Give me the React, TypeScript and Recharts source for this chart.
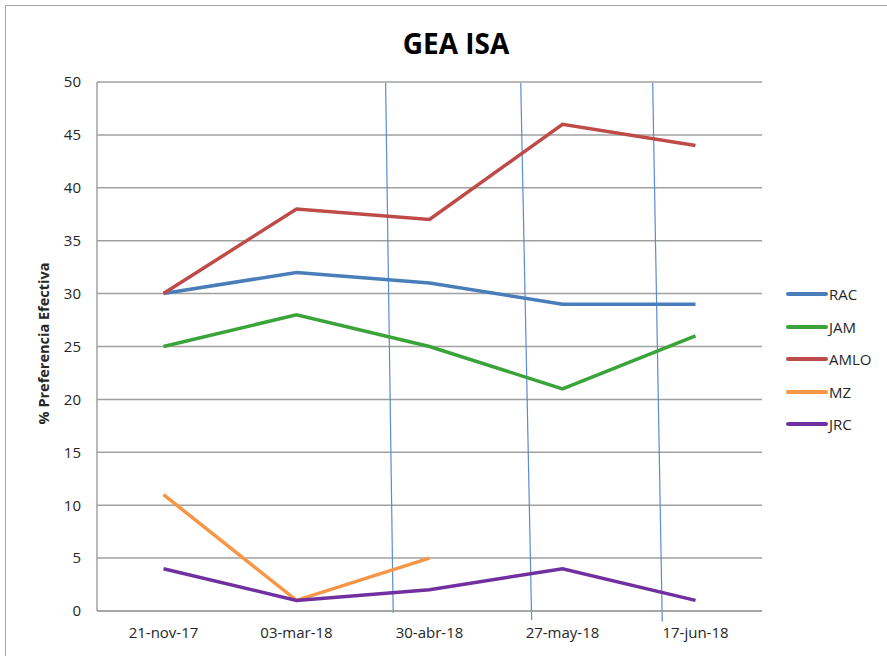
import React from 'react';
import { LineChart, Line, XAxis, YAxis, CartesianGrid, Legend, ReferenceLine } from 'recharts';

const categories = ['21-nov-17', '03-mar-18', '30-abr-18', '27-may-18', '17-jun-18'];
const rac = [30, 32, 31, 29, 29];
const jam = [25, 28, 25, 21, 26];
const amlo = [30, 38, 37, 46, 44];
const mz: (number | null)[] = [11, 1, 5, null, null];
const jrc = [4, 1, 2, 4, 1];
const yTicks = [0, 5, 10, 15, 20, 25, 30, 35, 40, 45, 50];

// hand-drawn slanted annotation lines, in (category-band position, value) units
const annotations = [
  { x1: 2.17, y1: 49.9, x2: 2.227, y2: -0.2 },
  { x1: 3.186, y1: 49.9, x2: 3.268, y2: -0.85 },
  { x1: 4.178, y1: 49.9, x2: 4.25, y2: -1.0 },
];

const series = [
  { key: 'RAC', values: rac, color: '#4a7ebb' },
  { key: 'JAM', values: jam, color: '#3aa43a' },
  { key: 'AMLO', values: amlo, color: '#be4b48' },
  { key: 'MZ', values: mz, color: '#f79646' },
  { key: 'JRC', values: jrc, color: '#7030a0' },
];

const data = categories.map((c, i) => {
  const row: Record<string, any> = { name: c, pos: i + 0.5 };
  series.forEach((s) => {
    row[s.key] = s.values[i];
  });
  return row;
});

const FONT = '"Open Sans", "Noto Sans", sans-serif';

const renderLegend = () => (
  <div style={{ fontFamily: FONT, fontSize: 15, color: '#262626' }}>
    {series.map((s) => (
      <div key={s.key} style={{ display: 'flex', alignItems: 'center', height: 32.5 }}>
        <svg width={42} height={6} style={{ display: 'block' }}>
          <line x1={2} y1={3} x2={40} y2={3} stroke={s.color} strokeWidth={4} strokeLinecap="round" />
        </svg>
        <span style={{ marginLeft: 1 }}>{s.key}</span>
      </div>
    ))}
  </div>
);

const YLabel = (props: any) => {
  const vb = props.viewBox || {};
  const cx = 43;
  const cy = (vb.y ?? 82) + (vb.height ?? 529) / 2 - 3;
  return (
    <text
      x={cx}
      y={cy}
      transform={`rotate(-90, ${cx}, ${cy})`}
      textAnchor="middle"
      dominantBaseline="central"
      fontFamily={FONT}
      fontSize={14.5}
      fontWeight="bold"
      fill="#262626"
    >
      % Preferencia Efectiva
    </text>
  );
};

export default function App() {
  return (
    <div style={{ position: 'absolute', left: 0, top: 0, width: 887, height: 656, background: '#fff', overflow: 'hidden' }}>
      <div
        style={{
          position: 'absolute',
          left: 5,
          top: 5,
          width: 900,
          height: 700,
          borderTop: '1px solid #a6a6a6',
          borderLeft: '1px solid #a6a6a6',
        }}
      />
      <LineChart
        width={887}
        height={656}
        data={data}
        margin={{ top: 82, right: 125, bottom: 0, left: 0 }}
        style={{ position: 'absolute', left: 0, top: 0 }}
      >
        <text x={456} y={43} textAnchor="middle" dominantBaseline="central" fontFamily={FONT} fontSize={28} fontWeight="bold" fill="#000">
          GEA ISA
        </text>
        <CartesianGrid vertical={false} stroke="#a0a0a0" strokeWidth={1.5} />
        <XAxis
          dataKey="name"
          height={45}
          stroke="#a0a0a0"
          strokeWidth={1.5}
          tickLine={false}
          tickSize={0}
          tickMargin={16}
          padding={{ left: 66.5, right: 66.5 }}
          tick={{ fontFamily: FONT, fontSize: 15, fill: '#262626' }}
          interval={0}
        />
        <XAxis xAxisId="ann" dataKey="pos" type="number" domain={[0, 5]} hide allowDataOverflow />
        <YAxis
          width={97}
          domain={[0, 50]}
          ticks={yTicks}
          interval={0}
          stroke="#a0a0a0"
          strokeWidth={1.5}
          tickLine={false}
          tickSize={0}
          tickMargin={16}
          tick={{ fontFamily: FONT, fontSize: 15, fill: '#262626' }}
          label={<YLabel />}
        />
        {annotations.map((a, i) => (
          <ReferenceLine
            key={i}
            xAxisId="ann"
            segment={[
              { x: a.x1, y: a.y1 },
              { x: a.x2, y: a.y2 },
            ]}
            stroke="#5b8bd0"
            strokeWidth={1.2}
            ifOverflow="visible"
          />
        ))}
        {series.map((s) => (
          <Line
            key={s.key}
            type="linear"
            dataKey={s.key}
            stroke={s.color}
            strokeWidth={3.5}
            dot={false}
            activeDot={false}
            isAnimationActive={false}
            connectNulls={false}
          />
        ))}
        <Legend
          layout="vertical"
          align="center"
          verticalAlign="middle"
          content={renderLegend}
          wrapperStyle={{ left: 786, top: 278, width: 100 }}
        />
      </LineChart>
    </div>
  );
}
